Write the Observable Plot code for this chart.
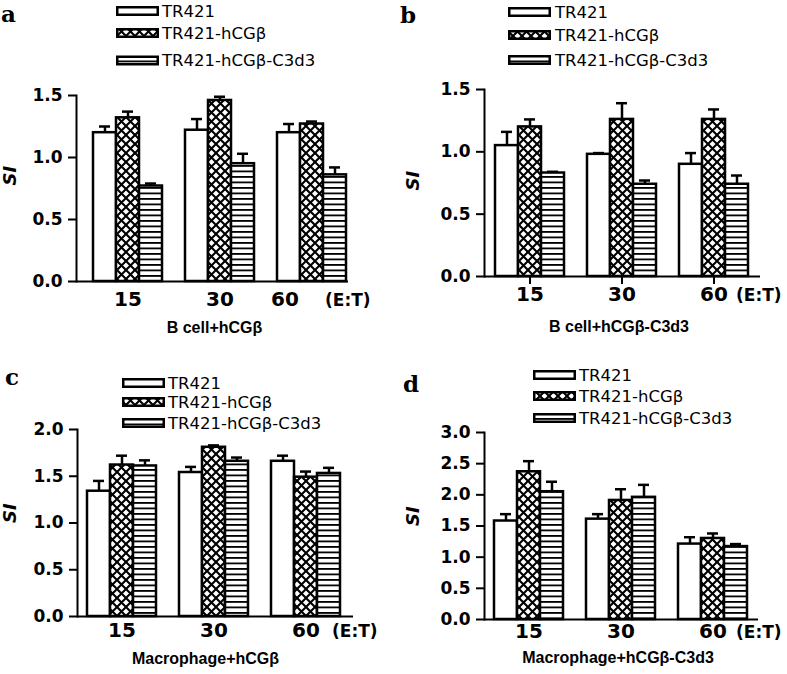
<!DOCTYPE html>
<html>
<head>
<meta charset="utf-8">
<script src="https://cdn.jsdelivr.net/npm/d3@7"></script>
<script src="https://cdn.jsdelivr.net/npm/@observablehq/plot@0.6"></script>
<style>
  body { margin: 0; background: white; }
  #fig { position: relative; width: 787px; height: 674px; background: white; overflow: hidden; }
  .panel { position: absolute; }
  #overlay { position: absolute; left: 0; top: 0; pointer-events: none; }
</style>
</head>
<body>
<svg width="0" height="0" style="position:absolute">
  <defs>
    <pattern id="pCross" patternUnits="userSpaceOnUse" width="9" height="9">
      <rect width="9" height="9" fill="white"></rect>
      <path d="M-1,-1L10,10M10,-1L-1,10" stroke="black" stroke-width="2.1"></path>
    </pattern>
    <pattern id="pStripe" patternUnits="userSpaceOnUse" width="8" height="5.5">
      <rect width="8" height="5.5" fill="white"></rect>
      <rect width="8" height="1.8" fill="black"></rect>
    </pattern>
  </defs>
</svg>
<div id="fig"></div>
<script>
const ratios = ["15", "30", "60"]
const series = ["TR421", "TR421-hCGβ", "TR421-hCGβ-C3d3"]
const fills = ["white", "url(#pCross)", "url(#pStripe)"]

// a: B cell + hCGβ  (means, then upper error)
const aTR421 = [1.20, 1.22, 1.20]
const aHcg = [1.32, 1.46, 1.27]
const aC3d3 = [0.77, 0.95, 0.86]
const aTR421Err = [0.05, 0.09, 0.07]
const aHcgErr = [0.05, 0.03, 0.02]
const aC3d3Err = [0.02, 0.08, 0.06]

// b: B cell + hCGβ-C3d3
const bTR421 = [1.05, 0.98, 0.90]
const bHcg = [1.20, 1.26, 1.26]
const bC3d3 = [0.83, 0.74, 0.74]
const bTR421Err = [0.11, 0.01, 0.09]
const bHcgErr = [0.06, 0.13, 0.08]
const bC3d3Err = [0.01, 0.03, 0.07]

// c: Macrophage + hCGβ
const cTR421 = [1.34, 1.54, 1.66]
const cHcg = [1.62, 1.81, 1.49]
const cC3d3 = [1.61, 1.66, 1.53]
const cTR421Err = [0.11, 0.06, 0.06]
const cHcgErr = [0.10, 0.02, 0.06]
const cC3d3Err = [0.06, 0.04, 0.06]

// d: Macrophage + hCGβ-C3d3
const dTR421 = [1.58, 1.61, 1.21]
const dHcg = [2.37, 1.91, 1.30]
const dC3d3 = [2.05, 1.96, 1.17]
const dTR421Err = [0.11, 0.08, 0.11]
const dHcgErr = [0.17, 0.18, 0.08]
const dC3d3Err = [0.16, 0.20, 0.04]

const titles = ["B cell+hCGβ", "B cell+hCGβ-C3d3", "Macrophage+hCGβ", "Macrophage+hCGβ-C3d3"]
const letters = ["a", "b", "c", "d"]
const yMaxes = [1.5, 1.5, 2.0, 3.0]

// slot keys: 3 bars per ratio with an empty slot between ratios
const slotKey = (r, s) => r + "|" + s
const slots = []
ratios.forEach((r, i) => {
  series.forEach(s => slots.push(slotKey(r, s)))
  if (i < ratios.length - 1) slots.push("gap" + i)
})

function rowsOf(means, errs) {
  const rows = []
  ratios.forEach((r, i) => {
    series.forEach((s, j) => {
      rows.push({ratio: r, series: s, slot: slotKey(r, s), value: means[j][i], err: errs[j][i]})
    })
  })
  return rows
}

const panelData = [
  rowsOf([aTR421, aHcg, aC3d3], [aTR421Err, aHcgErr, aC3d3Err]),
  rowsOf([bTR421, bHcg, bC3d3], [bTR421Err, bHcgErr, bC3d3Err]),
  rowsOf([cTR421, cHcg, cC3d3], [cTR421Err, cHcgErr, cC3d3Err]),
  rowsOf([dTR421, dHcg, dC3d3], [dTR421Err, dHcgErr, dC3d3Err])
]

// layout of the four panels
const layout = [
  {left: 0, top: 0, width: 393, height: 337, ml: 76, mr: 45, mt: 95, mb: 56, po: 0.254, align: 0.92,
   tickDy: 24, lastDx: -27, etDx: -10, titleDx: 2, titleDy: 51, siDx: -66, siDy: -3, xTicks: false,
   letter: [1, 22], boxX: 116, textX: 162, rowsY: [11, 33, 60.5]},
  {left: 393, top: 0, width: 394, height: 337, ml: 91, mr: 27, mt: 89, mb: 61, po: 0.407, align: 0.47,
   tickDy: 24, lastDx: 0, etDx: -1, titleDx: -3.5, titleDy: 55, siDx: -71, siDy: 7.5, xTicks: true,
   letter: [400, 23], boxX: 508, textX: 555, rowsY: [12, 35, 60]},
  {left: 0, top: 337, width: 393, height: 337, ml: 77, mr: 40, mt: 92, mb: 58, po: 0.407, align: 0.42,
   tickDy: 20, lastDx: 0, etDx: 3, titleDx: -10, titleDy: 47, siDx: -67, siDy: 0, xTicks: false,
   letter: [5, 385], boxX: 122, textX: 168, rowsY: [383, 402, 423]},
  {left: 393, top: 337, width: 394, height: 337, ml: 91, mr: 29, mt: 95, mb: 55, po: 0.364, align: 0.47,
   tickDy: 18, lastDx: 0, etDx: 0, titleDx: -3.5, titleDy: 43, siDx: -71, siDy: 0, xTicks: false,
   letter: [403, 392], boxX: 533, textX: 579, rowsY: [375, 396, 418]}
]

const fig = d3.select("#fig")
const mid = series[1]
const last = ratios[ratios.length - 1]

layout.forEach((p, k) => {
  const rows = panelData[k]
  const yTicks = d3.range(0, yMaxes[k] + 0.001, 0.5)
  const chart = Plot.plot({
    width: p.width,
    height: p.height,
    marginLeft: p.ml,
    marginRight: p.mr,
    marginTop: p.mt,
    marginBottom: p.mb,
    x: {domain: slots, padding: 0, paddingOuter: p.po, align: p.align, axis: p.xTicks ? undefined : null},
    y: {domain: [0, yMaxes[k]], label: null},
    color: {type: "ordinal", domain: series, range: fills},
    style: {
      fontFamily: "DejaVu Sans",
      fontSize: "17px",
      fontWeight: "bold",
      color: "black",
      background: "transparent",
      overflow: "visible"
    },
    marks: [
      Plot.barY(rows, {x: "slot", y: "value", fill: "series", stroke: "black", strokeWidth: 2.5, inset: 0}),
      Plot.ruleX(rows, {x: "slot", y1: "value", y2: d => d.value + d.err, stroke: "black", strokeWidth: 2.5}),
      Plot.tickY(rows, {x: "slot", y: d => d.value + d.err, stroke: "black", strokeWidth: 2.5, insetLeft: 6, insetRight: 6}),
      Plot.ruleY([0], {stroke: "black", strokeWidth: 2}),
      Plot.frame({anchor: "left", stroke: "black", strokeWidth: 2}),
      Plot.axisY(yTicks, {tickSize: 8, tickPadding: 6, tickFormat: d3.format(".1f"), fontSize: 17, fontWeight: "bold", strokeWidth: 2, label: null}),
      p.xTicks ? Plot.axisX(ratios.map(r => slotKey(r, mid)), {tickSize: 8, strokeWidth: 2, tickFormat: () => "", label: null}) : null,
      // group labels under the axis
      Plot.text(ratios.slice(0, -1), {x: r => slotKey(r, mid), text: d => d, frameAnchor: "bottom", dy: p.tickDy, fontSize: 20, fontWeight: "bold"}),
      Plot.text([last], {x: r => slotKey(r, mid), text: d => d, frameAnchor: "bottom", dy: p.tickDy, dx: p.lastDx, fontSize: 20, fontWeight: "bold"}),
      Plot.text(["(E:T)"], {x: () => slotKey(last, series[2]), text: d => d, frameAnchor: "bottom", textAnchor: "start", dy: p.tickDy, dx: p.etDx, fontSize: 17, fontWeight: "bold"}),
      Plot.text([titles[k]], {text: d => d, frameAnchor: "bottom", dx: p.titleDx, dy: p.titleDy, fontFamily: "Liberation Sans", fontSize: 16, fontWeight: "bold"}),
      Plot.text(["SI"], {text: d => d, frameAnchor: "left", rotate: -90, dx: p.siDx, dy: p.siDy, fontSize: 18, fontWeight: "bold", fontStyle: "italic"})
    ]
  })
  fig.append("div")
    .attr("class", "panel")
    .style("left", p.left + "px")
    .style("top", p.top + "px")
    .style("width", p.width + "px")
    .style("height", p.height + "px")
    .append(() => chart)
})

// panel letters and legends
const overlay = fig.append("svg")
  .attr("id", "overlay")
  .attr("width", 787)
  .attr("height", 674)

layout.forEach((p, k) => {
  overlay.append("text")
    .attr("x", p.letter[0])
    .attr("y", p.letter[1])
    .attr("font-family", "DejaVu Serif")
    .attr("font-weight", "bold")
    .attr("font-size", 23)
    .text(letters[k])

  series.forEach((s, j) => {
    const y = p.rowsY[j]
    overlay.append("rect")
      .attr("x", p.boxX + 1.25)
      .attr("y", y - 3.75)
      .attr("width", 40.5)
      .attr("height", 7.5)
      .attr("fill", fills[j])
      .attr("stroke", "black")
      .attr("stroke-width", 2.5)
    overlay.append("text")
      .attr("x", p.textX)
      .attr("y", y)
      .attr("dominant-baseline", "central")
      .attr("font-family", "DejaVu Sans")
      .attr("font-size", 16.5)
      .text(s)
  })
})
</script>
</body>
</html>
